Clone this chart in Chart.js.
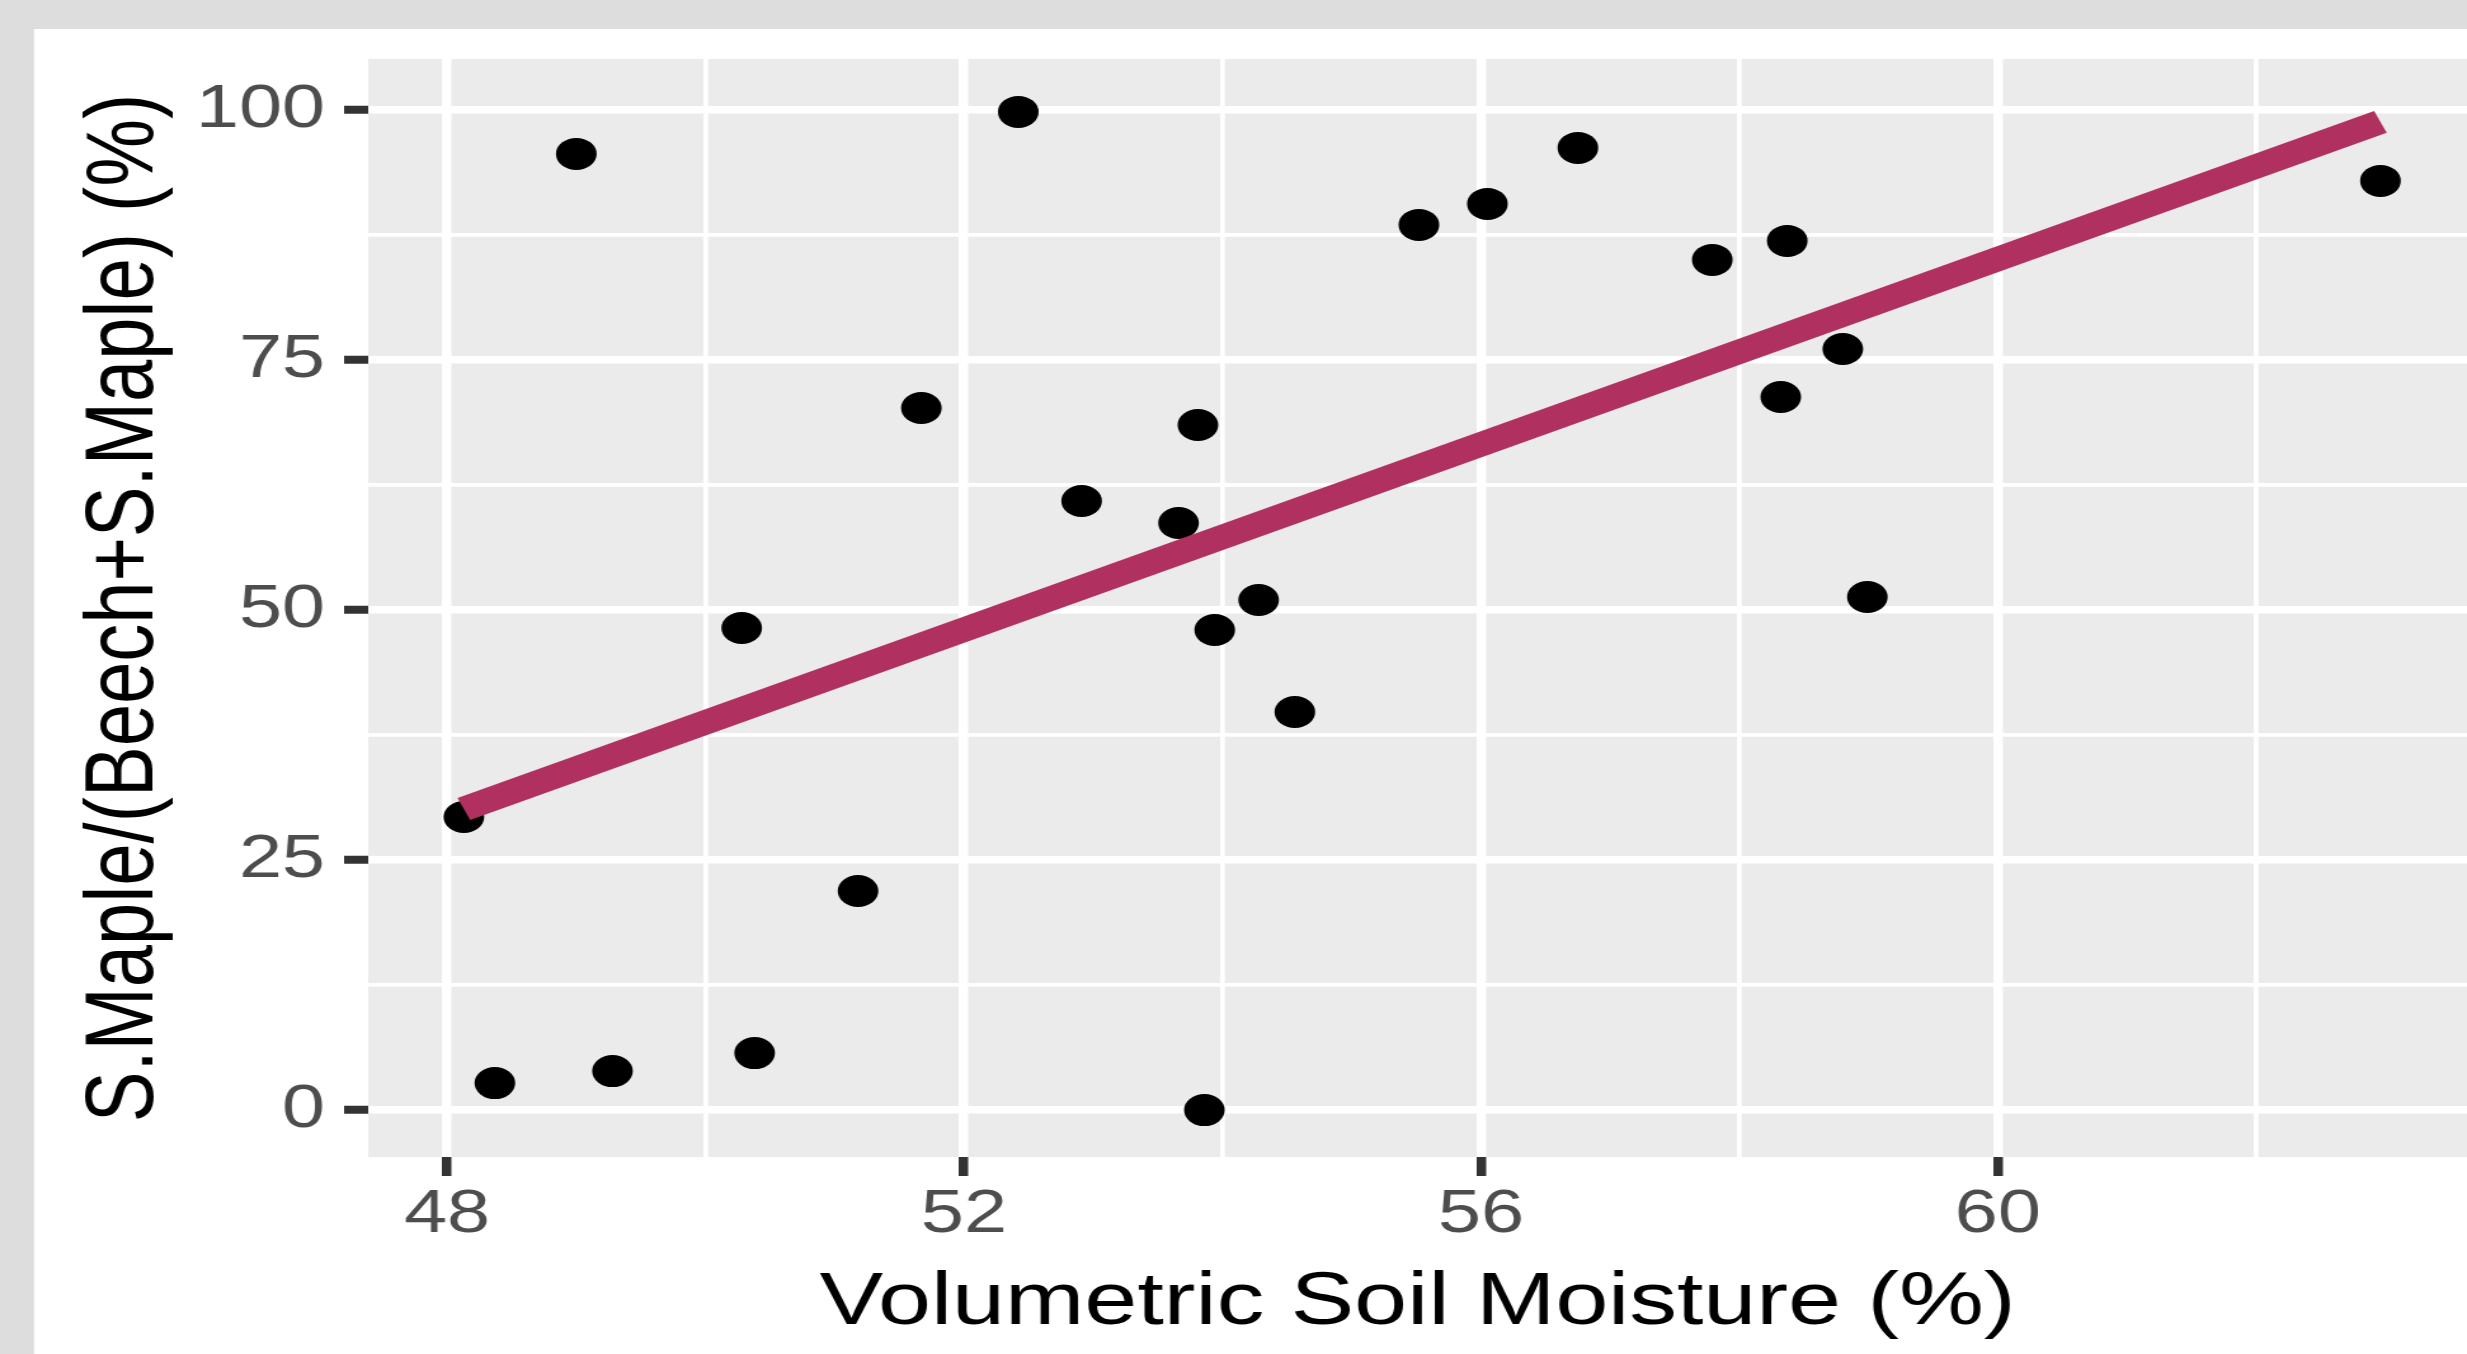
<!DOCTYPE html>
<html>
<head>
<meta charset="utf-8">
<script src="https://cdn.jsdelivr.net/npm/chart.js@4.4.1/dist/chart.umd.min.js"></script>
<style>
  html, body { margin: 0; padding: 0; background: #ffffff; overflow: hidden; }
  #wrap { position: absolute; left: 0; top: 0; width: 2467px; height: 1354px; overflow: hidden; }
  #c { position: absolute; left: 0; top: 0; transform-origin: 0 0; }
</style>
</head>
<body>
<div id="wrap"><canvas id="c" width="1943" height="1354"></canvas></div>
<script>
// ---- data ----
const moisture = [48.13, 48.37, 49.00, 49.28, 50.28, 50.38, 51.18, 51.67, 52.42, 52.91,
                  53.66, 53.81, 53.86, 53.94, 54.28, 54.56, 55.52, 56.05, 56.75, 57.79,
                  58.37, 58.32, 58.80, 58.99, 62.96];
const mapleShare = [29.3, 2.7, 95.6, 3.9, 48.2, 5.7, 21.9, 70.2, 99.8, 60.9,
                    58.7, 68.5, 0.0, 48.0, 51.0, 39.8, 88.5, 90.6, 96.2, 85.0,
                    86.9, 71.3, 76.1, 51.3, 92.9];
const fitX = [48.13, 62.96];
const fitY = [30.1, 98.8];
const xTickLabels = [48, 52, 56, 60];
const xMinorTicks = [50, 54, 58, 62];
const yTickLabels = [0, 25, 50, 75, 100];
const yMinorTicks = [12.5, 37.5, 62.5, 87.5];
const xTitle = 'Volumetric Soil Moisture (%)';
const yTitle = 'S.Maple/(Beech+S.Maple) (%)';

// horizontal stretch of the reference picture
const STRETCH = 2467 / 1943;
const canvas = document.getElementById('c');
canvas.style.transform = 'scaleX(' + STRETCH + ')';

const points = moisture.map((x, i) => ({ x: x, y: mapleShare[i] }));
const fitLine = fitX.map((x, i) => ({ x: x, y: fitY[i] }));

const allX = xTickLabels.concat(xMinorTicks).sort((a, b) => a - b);
const allY = yTickLabels.concat(yMinorTicks).sort((a, b) => a - b);

const backgroundPlugin = {
  id: 'bg',
  afterLayout(chart) {
    // panel runs to the right edge of the picture
    const xs = chart.scales.x;
    const W = chart.width;
    chart.chartArea.right = W;
    chart.chartArea.width = W - chart.chartArea.left;
    xs.right = W;
    xs.width = W - xs.left;
    xs.configure();
  },
  beforeDraw(chart) {
    const ctx = chart.ctx;
    const a = chart.chartArea;
    ctx.save();
    ctx.fillStyle = '#DDDDDD';
    ctx.fillRect(0, 0, chart.width, chart.height);
    ctx.fillStyle = '#FFFFFF';
    ctx.fillRect(34 / STRETCH, 29, chart.width, chart.height);
    ctx.fillStyle = '#EBEBEB';
    ctx.fillRect(a.left, a.top, a.right - a.left, a.bottom - a.top);
    ctx.restore();
  }
};

const FONT = 'Liberation Sans, Arial, Helvetica, sans-serif';

new Chart(canvas, {
  type: 'scatter',
  data: {
    datasets: [
      {
        type: 'line',
        data: fitLine,
        borderColor: '#B03060',
        borderWidth: 24,
        borderCapStyle: 'butt',
        pointRadius: 0,
        fill: false,
        order: 0
      },
      {
        type: 'scatter',
        data: points,
        pointStyle: 'circle',
        pointRadius: 16,
        backgroundColor: '#000000',
        borderWidth: 0,
        order: 1
      }
    ]
  },
  options: {
    responsive: false,
    animation: false,
    devicePixelRatio: 1,
    layout: { padding: { top: 59, left: 0, right: 0, bottom: 0 } },
    plugins: { legend: { display: false }, tooltip: { enabled: false } },
    scales: {
      x: {
        type: 'linear',
        min: 47.39,
        max: 63.63,
        afterFit(scale) { scale.height = 1354 - 1157; scale.paddingLeft = 0; scale.paddingRight = 0; },
        afterBuildTicks(scale) { scale.ticks = allX.map(v => ({ value: v })); },
        border: { display: false },
        grid: {
          color: '#FFFFFF',
          lineWidth: ctx => (ctx.tick && xTickLabels.includes(ctx.tick.value)) ? 7.5 : 3.75,
          tickColor: ctx => (ctx.tick && xTickLabels.includes(ctx.tick.value)) ? '#333333' : 'rgba(0,0,0,0)',
          tickWidth: 7.5,
          tickLength: 19,
          drawTicks: true
        },
        ticks: {
          autoSkip: false,
          maxRotation: 0,
          padding: 3,
          color: '#4D4D4D',
          font: { family: FONT, size: 61 },
          callback: v => xTickLabels.includes(v) ? String(v) : ''
        },
        title: {
          display: true,
          text: xTitle,
          color: '#000000',
          font: { family: FONT, size: 75 },
          padding: { top: 0, bottom: 6 }
        }
      },
      y: {
        type: 'linear',
        min: -4.69,
        max: 105.09,
        afterFit(scale) { scale.width = 290; },
        afterBuildTicks(scale) { scale.ticks = allY.map(v => ({ value: v })); },
        border: { display: false },
        grid: {
          color: '#FFFFFF',
          lineWidth: ctx => (ctx.tick && yTickLabels.includes(ctx.tick.value)) ? 7.5 : 3.75,
          tickColor: ctx => (ctx.tick && yTickLabels.includes(ctx.tick.value)) ? '#333333' : 'rgba(0,0,0,0)',
          tickWidth: 8,
          tickLength: 19,
          drawTicks: true
        },
        ticks: {
          autoSkip: false,
          padding: 15,
          color: '#4D4D4D',
          font: { family: FONT, size: 61 },
          callback: v => yTickLabels.includes(v) ? String(v) : ''
        },
        title: {
          display: true,
          text: yTitle,
          color: '#000000',
          font: { family: FONT, size: 76 },
          padding: { top: 53.8, bottom: 0 }
        }
      }
    }
  },
  plugins: [backgroundPlugin]
});
</script>
</body>
</html>
